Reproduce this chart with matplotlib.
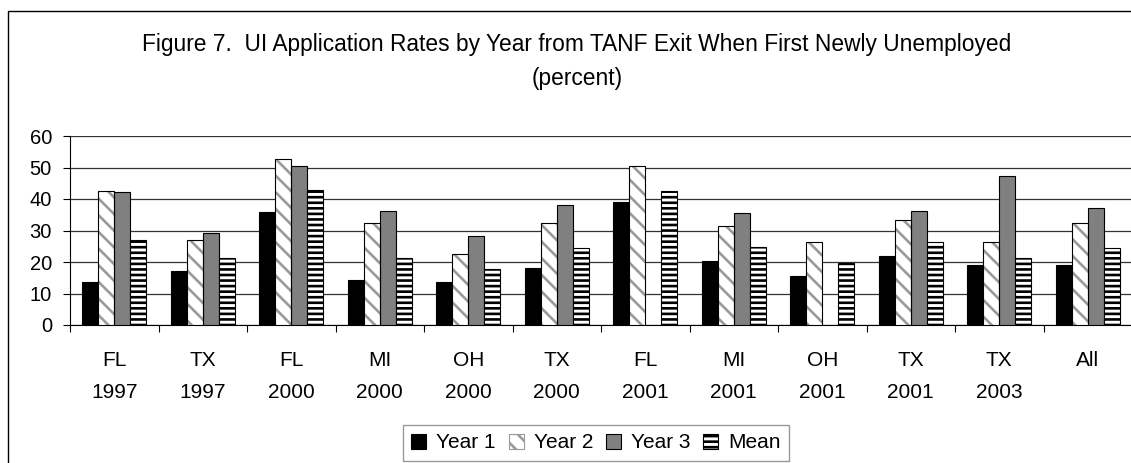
import matplotlib.pyplot as plt
from matplotlib.patches import Rectangle, Patch
import numpy as np

plt.rcParams['font.family'] = ['Liberation Sans', 'DejaVu Sans']
plt.rcParams['hatch.linewidth'] = 1.9

# states / exit years
cats = ["FL\n1997", "TX\n1997", "FL\n2000", "MI\n2000", "OH\n2000", "TX\n2000",
        "FL\n2001", "MI\n2001", "OH\n2001", "TX\n2001", "TX\n2003", "All"]

# UI application rates (percent)
year1 = [13.8, 17.3, 36.0, 14.2, 13.8, 18.2, 39.1, 20.4, 15.5, 21.8, 19.1, 19.1]
year2 = [42.6, 27.0, 52.8, 32.3, 22.5, 32.4, 50.5, 31.4, 26.4, 33.3, 26.4, 32.3]
year3 = [42.2, 29.2, 50.5, 36.3, 28.3, 38.1, np.nan, 35.4, np.nan, 36.3, 47.4, 37.2]
mean = [27.0, 21.3, 43.0, 21.3, 17.7, 24.4, 42.6, 24.8, 19.6, 26.5, 21.3, 24.4]

W, H = 1131, 463
fig = plt.figure(figsize=(W / 100, H / 100), dpi=100)
ax = fig.add_axes([70 / W, 1 - 325 / H, 1062 / W, 189 / H])

x = np.arange(len(cats)) + 0.5
bw = 0.18

ax.bar(x - 1.5 * bw, year1, bw, color='black', edgecolor='black', lw=0.8, zorder=3)
# year 2: grey diagonal hatch, black outline drawn on top
ax.bar(x - 0.5 * bw, year2, bw, color='white', edgecolor='#9a9a9a', lw=0,
       hatch='\\\\', zorder=3)
ax.bar(x - 0.5 * bw, year2, bw, fill=False, edgecolor='black', lw=0.8, zorder=4)
ax.bar(x + 0.5 * bw, year3, bw, color='#808080', edgecolor='black', lw=0.8, zorder=3)
ax.bar(x + 1.5 * bw, mean, bw, color='white', edgecolor='black', lw=0.8,
       hatch='---', zorder=3)

ax.set_xlim(0, len(cats))
ax.set_ylim(0, 60)
ax.set_yticks(range(0, 61, 10))
ax.grid(axis='y', color='#333333', lw=0.9, zorder=0)
ax.set_axisbelow(True)

ax.set_xticks(x)
ax.set_xticklabels(cats, linespacing=1.85)
ax.set_xticks(np.arange(len(cats) + 1), minor=True)
ax.tick_params(axis='x', which='major', length=0, pad=19, labelsize=15)
ax.tick_params(axis='x', which='minor', length=5, width=0.8, color='black')
ax.tick_params(axis='y', length=5, width=0.8, pad=8, labelsize=14.5)
for s in ['top', 'right']:
    ax.spines[s].set_visible(False)
ax.spines['left'].set_linewidth(0.8)
ax.spines['bottom'].set_linewidth(0.8)

handles = [Patch(facecolor='black', edgecolor='black', lw=0.8),
           Patch(facecolor='white', edgecolor='#9a9a9a', hatch='\\\\', lw=0.8),
           Patch(facecolor='#808080', edgecolor='black', lw=0.8),
           Patch(facecolor='white', edgecolor='black', hatch='---', lw=0.8)]
leg = fig.legend(handles, ['Year 1', 'Year 2', 'Year 3', 'Mean'], ncol=4,
                 loc='center', bbox_to_anchor=(596 / W, 1 - 443 / H),
                 fontsize=15, frameon=True, fancybox=False, edgecolor='#808080',
                 handlelength=0.72, handleheight=0.72, handletextpad=0.48,
                 columnspacing=0.62, borderpad=0.4, borderaxespad=0)
leg.get_frame().set_linewidth(1)

fig.text(577 / W, 1 - 45 / H,
         "Figure 7.  UI Application Rates by Year from TANF Exit When First Newly Unemployed",
         ha='center', va='center', fontsize=16.4)
fig.text(577 / W, 1 - 78 / H, "(percent)", ha='center', va='center', fontsize=16.4)

# outer chart border
fig.add_artist(Rectangle((8 / W, -0.1), 1.2, 1 - 11 / H + 0.1,
                         transform=fig.transFigure, fill=False,
                         edgecolor='black', lw=1))

fig.savefig('out.png', dpi=100)
